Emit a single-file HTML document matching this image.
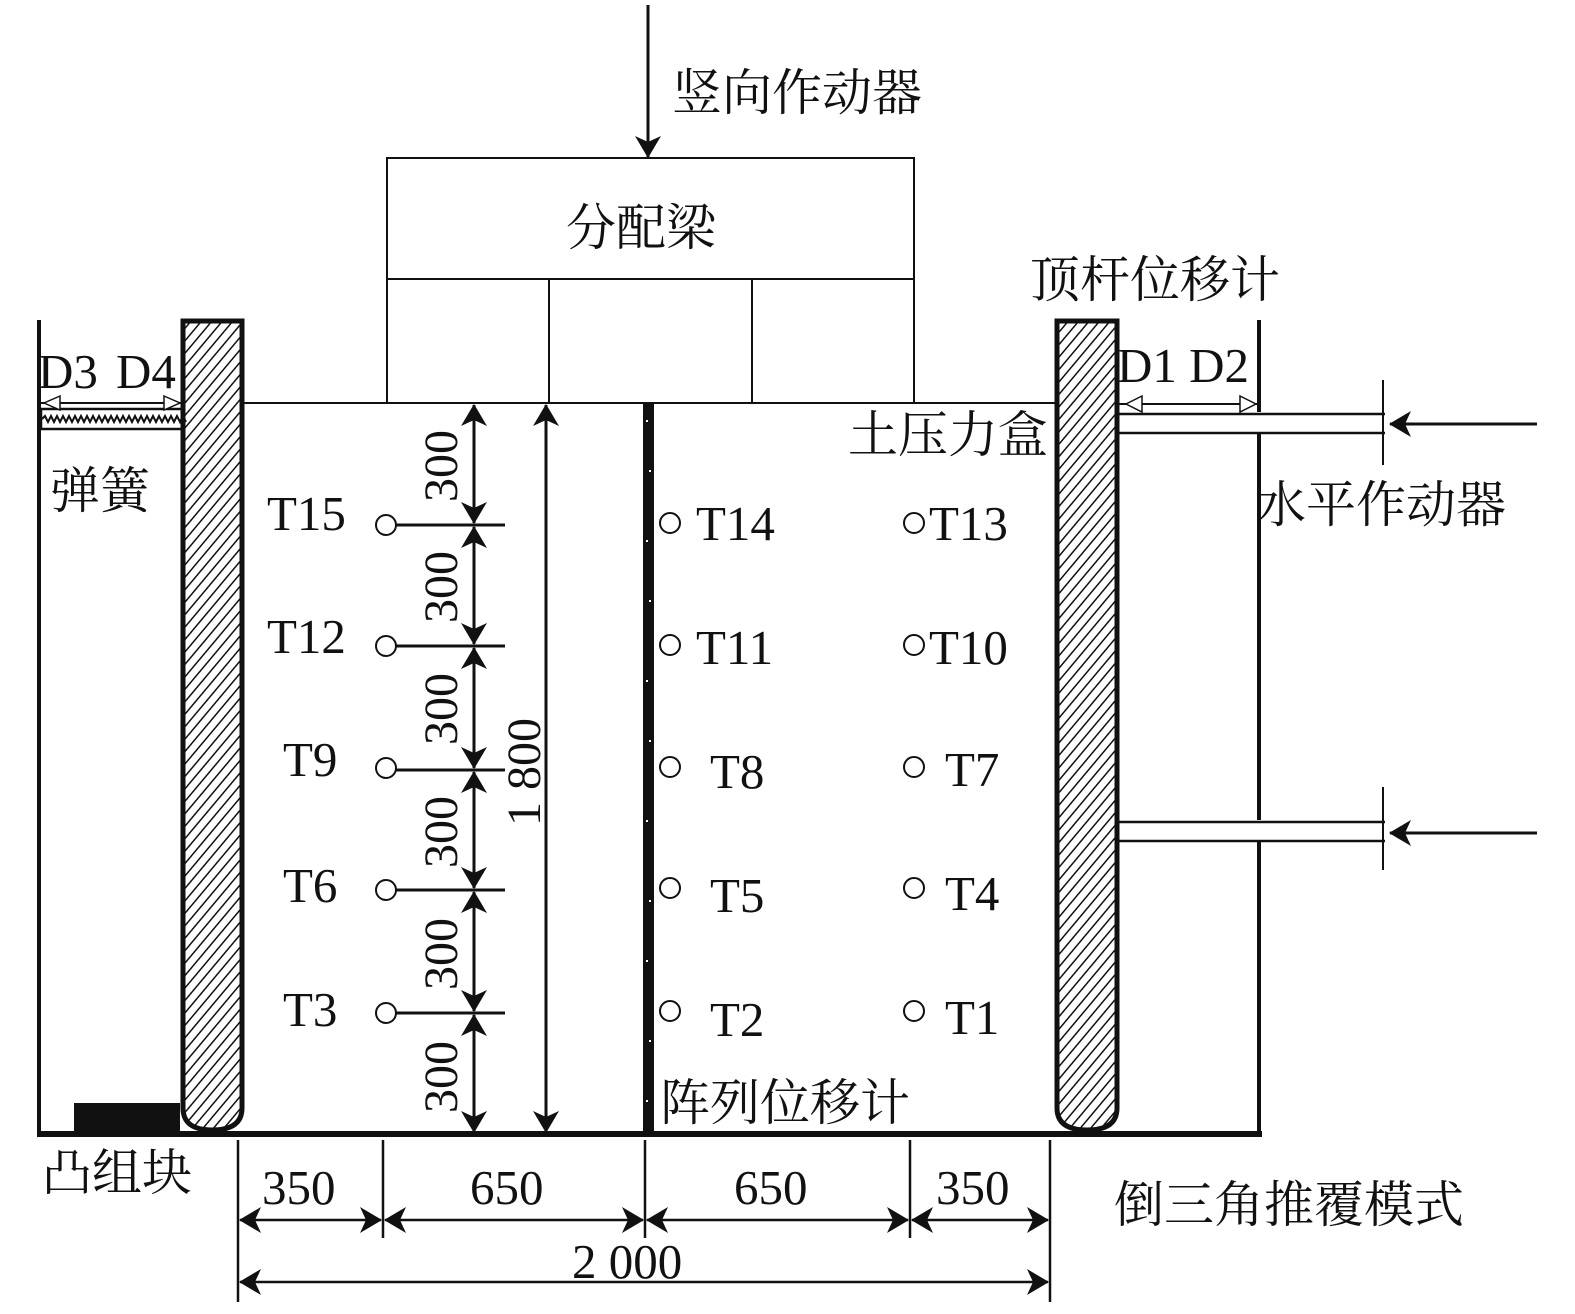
<!DOCTYPE html>
<html><head><meta charset="utf-8"><style>
html,body{margin:0;padding:0;background:#fff;}
svg{display:block;}
text{font-family:"Liberation Serif","Noto Serif CJK SC",serif;fill:#111;}
</style></head><body>
<svg width="1575" height="1314" viewBox="0 0 1575 1314" xmlns="http://www.w3.org/2000/svg">
<defs>
<pattern id="h" width="8" height="8" patternUnits="userSpaceOnUse" patternTransform="rotate(40)">
<rect width="8" height="8" fill="#fff"/><line x1="0" y1="0" x2="0" y2="8" stroke="#111" stroke-width="3"/>
</pattern>
<marker id="b" markerWidth="22" markerHeight="26" refX="21" refY="13" orient="auto-start-reverse" markerUnits="userSpaceOnUse" viewBox="0 0 22 26">
<path d="M0,0 L22,13 L0,26 L6,13 Z" fill="#111"/>
</marker>
</defs>
<g stroke="#111" fill="none">
<line x1="648" y1="5" x2="648" y2="157" stroke-width="3" marker-end="url(#b)"/>
<rect x="387" y="158" width="527" height="121" stroke-width="2"/>
<line x1="387" y1="279" x2="387" y2="403" stroke-width="2"/>
<line x1="914" y1="279" x2="914" y2="403" stroke-width="2"/>
<line x1="549" y1="279" x2="549" y2="403" stroke-width="2"/>
<line x1="752" y1="279" x2="752" y2="403" stroke-width="2"/>
<line x1="243" y1="403" x2="1056" y2="403" stroke-width="2"/>
<line x1="39" y1="320" x2="39" y2="1135" stroke-width="4"/>
<line x1="37" y1="1134" x2="1262" y2="1134" stroke-width="6"/>
<line x1="1259" y1="320" x2="1259" y2="412" stroke-width="4"/>
<line x1="1259" y1="432" x2="1259" y2="820" stroke-width="4"/>
<line x1="1259" y1="840" x2="1259" y2="1135" stroke-width="4"/>
<path d="M183,321 H242 V1108 Q242,1130 212,1130 Q183,1130 183,1108 Z" fill="url(#h)" stroke-width="5"/>
<path d="M1057,321 H1117 V1108 Q1117,1130 1087,1130 Q1057,1130 1057,1108 Z" fill="url(#h)" stroke-width="5"/>
<rect x="643" y="404" width="11" height="730" fill="#111" stroke="none"/>
<line x1="41" y1="403" x2="182" y2="403" stroke-width="2"/>
<rect x="41" y="409" width="141" height="20" stroke-width="2.5"/>
<path d="M42,419 l3,-3 3,6 3,-6 3,6 3,-6 3,6 3,-6 3,6 3,-6 3,6 3,-6 3,6 3,-6 3,6 3,-6 3,6 3,-6 3,6 3,-6 3,6 3,-6 3,6 3,-6 3,6 3,-6 3,6 3,-6 3,6 3,-6 3,6 3,-6 3,6 3,-6 3,6 3,-6 3,6 3,-6 3,6 3,-6 3,6 3,-6 3,6 3,-6 3,6 3,-6 3,6 3,-6 3,6" stroke-width="2"/>
<path d="M60,396 L44,403 L60,410 Z" stroke-width="1.5" fill="#fff"/>
<path d="M164,396 L180,403 L164,410 Z" stroke-width="1.5" fill="#fff"/>
<rect x="74" y="1103" width="106" height="30" fill="#111" stroke="none"/>
<line x1="1118" y1="404" x2="1258" y2="404" stroke-width="2"/>
<path d="M1142,396 L1126,404 L1142,412 Z" stroke-width="1.5" fill="#fff"/>
<path d="M1240,396 L1256,404 L1240,412 Z" stroke-width="1.5" fill="#fff"/>
<line x1="1118" y1="414" x2="1385" y2="414" stroke-width="2.5"/>
<line x1="1118" y1="433" x2="1385" y2="433" stroke-width="2.5"/>
<line x1="1118" y1="822" x2="1385" y2="822" stroke-width="2.5"/>
<line x1="1118" y1="841" x2="1385" y2="841" stroke-width="2.5"/>
<line x1="1383" y1="380" x2="1383" y2="465" stroke-width="2"/>
<line x1="1383" y1="787" x2="1383" y2="870" stroke-width="2"/>
<line x1="1537" y1="424" x2="1390" y2="424" stroke-width="3" marker-end="url(#b)"/>
<line x1="1537" y1="833" x2="1390" y2="833" stroke-width="3" marker-end="url(#b)"/>
<g stroke-width="3">
<line x1="474" y1="405" x2="474" y2="523" marker-start="url(#b)" marker-end="url(#b)"/>
<line x1="474" y1="527" x2="474" y2="644" marker-start="url(#b)" marker-end="url(#b)"/>
<line x1="474" y1="648" x2="474" y2="768" marker-start="url(#b)" marker-end="url(#b)"/>
<line x1="474" y1="772" x2="474" y2="888" marker-start="url(#b)" marker-end="url(#b)"/>
<line x1="474" y1="892" x2="474" y2="1011" marker-start="url(#b)" marker-end="url(#b)"/>
<line x1="474" y1="1015" x2="474" y2="1132" marker-start="url(#b)" marker-end="url(#b)"/>
<line x1="546" y1="405" x2="546" y2="1132" marker-start="url(#b)" marker-end="url(#b)"/>
<line x1="395" y1="525" x2="505" y2="525"/>
<line x1="395" y1="646" x2="505" y2="646"/>
<line x1="395" y1="770" x2="505" y2="770"/>
<line x1="395" y1="890" x2="505" y2="890"/>
<line x1="395" y1="1013" x2="505" y2="1013"/>
</g>
<g stroke-width="2" fill="#fff">
<circle cx="386" cy="525" r="10"/><circle cx="386" cy="646" r="10"/><circle cx="386" cy="768" r="10"/><circle cx="386" cy="890" r="10"/><circle cx="386" cy="1013" r="10"/>
<circle cx="670" cy="523" r="10"/><circle cx="670" cy="645" r="10"/><circle cx="670" cy="767" r="10"/><circle cx="670" cy="888" r="10"/><circle cx="670" cy="1011" r="10"/>
<circle cx="914" cy="523" r="10"/><circle cx="914" cy="645" r="10"/><circle cx="914" cy="767" r="10"/><circle cx="914" cy="888" r="10"/><circle cx="914" cy="1011" r="10"/>
</g>
<g stroke-width="2.5">
<line x1="238" y1="1140" x2="238" y2="1302"/>
<line x1="383" y1="1140" x2="383" y2="1238"/>
<line x1="645" y1="1140" x2="645" y2="1238"/>
<line x1="910" y1="1140" x2="910" y2="1238"/>
<line x1="1050" y1="1140" x2="1050" y2="1302"/>
<line x1="240" y1="1220" x2="381" y2="1220" marker-start="url(#b)" marker-end="url(#b)"/>
<line x1="385" y1="1220" x2="643" y2="1220" marker-start="url(#b)" marker-end="url(#b)"/>
<line x1="647" y1="1220" x2="908" y2="1220" marker-start="url(#b)" marker-end="url(#b)"/>
<line x1="912" y1="1220" x2="1048" y2="1220" marker-start="url(#b)" marker-end="url(#b)"/>
<line x1="240" y1="1282" x2="1048" y2="1282" marker-start="url(#b)" marker-end="url(#b)"/>
</g>
</g>
<g fill="#fff">
<rect x="646" y="420" width="2" height="2"/><rect x="649" y="470" width="2" height="2"/><rect x="646" y="540" width="2" height="2"/><rect x="649" y="600" width="2" height="2"/><rect x="646" y="680" width="2" height="2"/><rect x="649" y="740" width="2" height="2"/><rect x="646" y="820" width="2" height="2"/><rect x="649" y="900" width="2" height="2"/><rect x="646" y="960" width="2" height="2"/><rect x="649" y="1040" width="2" height="2"/><rect x="646" y="1100" width="2" height="2"/>
</g>
<g font-size="50">
<text x="672" y="110">竖向作动器</text>
<text x="566" y="245">分配梁</text>
<text x="1030" y="297">顶杆位移计</text>
<text x="848" y="452">土压力盒</text>
<text x="1256" y="522">水平作动器</text>
<text x="50" y="508">弹簧</text>
<text x="42" y="1190">凸组块</text>
<text x="660" y="1120">阵列位移计</text>
<text x="1114" y="1222">倒三角推覆模式</text>
</g>
<g font-size="49">
<text x="38" y="388">D3</text><text x="116" y="388">D4</text>
<text x="1117" y="382">D1 D2</text>
<text x="267" y="530">T15</text><text x="267" y="653">T12</text><text x="283" y="776">T9</text><text x="283" y="902">T6</text><text x="283" y="1026">T3</text>
<text x="696" y="540">T14</text><text x="696" y="664">T11</text><text x="710" y="788">T8</text><text x="710" y="912">T5</text><text x="710" y="1036">T2</text>
<text x="929" y="540">T13</text><text x="929" y="664">T10</text><text x="945" y="786">T7</text><text x="945" y="910">T4</text><text x="945" y="1034">T1</text>
<text x="262" y="1204">350</text><text x="470" y="1204">650</text><text x="734" y="1204">650</text><text x="936" y="1204">350</text>
<text x="572" y="1278">2 000</text>
</g>
<g font-size="48">
<text transform="translate(457,466) rotate(-90)" text-anchor="middle">300</text>
<text transform="translate(457,587) rotate(-90)" text-anchor="middle">300</text>
<text transform="translate(457,709) rotate(-90)" text-anchor="middle">300</text>
<text transform="translate(457,832) rotate(-90)" text-anchor="middle">300</text>
<text transform="translate(457,954) rotate(-90)" text-anchor="middle">300</text>
<text transform="translate(457,1077) rotate(-90)" text-anchor="middle">300</text>
<text transform="translate(540,772) rotate(-90)" text-anchor="middle">1 800</text>
</g>
</svg>
</body></html>
